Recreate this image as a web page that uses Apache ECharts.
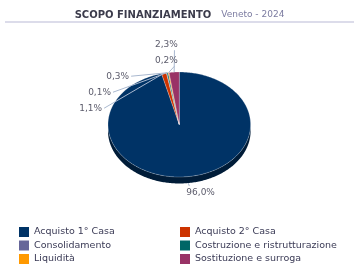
<!DOCTYPE html>
<html><head><meta charset="utf-8">
<script src="https://cdn.jsdelivr.net/npm/echarts@6/dist/echarts.min.js"></script>
<style>html,body{margin:0;padding:0;background:#fff}#c{width:359px;height:272px}</style>
</head><body><div id="c"></div>
<script>
// ---- data ----
const categories = ['Acquisto 1° Casa','Acquisto 2° Casa','Consolidamento','Costruzione e ristrutturazione','Liquidità','Sostituzione e surroga'];
const values = [96.0, 1.1, 0.1, 0.3, 0.2, 2.3];
const colors = ['#003366','#cc3300','#666699','#006666','#ff9900','#993366'];
const titleText = 'SCOPO FINANZIAMENTO';
const subtitleText = 'Veneto - 2024';
const legendCol1 = [0, 2, 4];
const legendCol2 = [1, 3, 5];

// ---- geometry of the tilted pie ----
const G = {cx:179.3, cy:124.5, rx:71.3, ry:52.5, depth:6.5};
const LD = {Rx2:80, Ry2:62, Rout:G.ry + 28, gap:16};
const total = values.reduce((a,b)=>a+b,0);
const starts = []; let acc = 0; values.forEach(v=>{starts.push(acc); acc += v;});
const fmt = v => v.toFixed(1).replace('.', ',') + '%';
function pt(th, dy){ const r = th*Math.PI/180; return [G.cx + G.rx*Math.sin(r), G.cy - G.ry*Math.cos(r) + (dy||0)]; }
function arc(a,b,dy){ const n = Math.max(2, Math.ceil(b-a)); const out=[]; for(let i=0;i<=n;i++) out.push(pt(a+(b-a)*i/n, dy)); return out; }
function shade(hex, f){ const n=parseInt(hex.slice(1),16); const r=Math.round(((n>>16)&255)*f), g=Math.round(((n>>8)&255)*f), b=Math.round((n&255)*f); return 'rgb('+r+','+g+','+b+')'; }

// ---- label layout ----
const mids = values.map((v,i)=> (starts[i] + v/2)/total*360);
const layout = [];
const leftIdx = mids.map((m,i)=>i).filter(i=>mids[i] > 180).sort((p,q)=>mids[q]-mids[p]);
let prevY = -Infinity;
leftIdx.forEach(i=>{
  const th = mids[i]*Math.PI/180;
  const anc = pt(mids[i], Math.cos(th) < 0 ? G.depth : 0);
  const y = Math.max(G.cy - LD.Rout*Math.cos(th), prevY + LD.gap);
  prevY = y;
  const dy = y - G.cy;
  if (Math.abs(dy) >= LD.Ry2) {
    const x = G.cx - 0.18*G.rx;
    layout[i] = {x:x, y:y, align:'center', line:[[x+8, y+6], anc]};
  } else {
    const xe = G.cx - LD.Rx2*Math.sqrt(1 - Math.pow(dy/LD.Ry2, 2));
    layout[i] = {x:xe, y:y, align:'right', line:[[xe+2, y], anc]};
  }
});
mids.forEach((m,i)=>{
  if (m > 180) return;
  const th = m*Math.PI/180;
  const anc = pt(m, Math.cos(th) < 0 ? G.depth : 0);
  const ox = G.cx + LD.Rx2*Math.sin(th), oy = G.cy - LD.Ry2*Math.cos(th);
  if (Math.cos(th) < 0) layout[i] = {x:ox-3, y:oy+7, align:'left', line:[anc,[ox,oy]]};
  else layout[i] = {x:ox+3, y:oy, align:'left', line:[anc,[ox,oy]]};
});

function renderItem(params, api){
  const i = params.dataIndex;
  const a = starts[i]/total*360, b = (starts[i]+values[i])/total*360;
  const children = [];
  const s = Math.max(a, 90), e = Math.min(b, 270);
  if (e > s) {
    const top = arc(s, e, 0), bot = arc(s, e, G.depth).reverse();
    children.push({type:'polygon', z2:1, shape:{points: top.concat(bot)}, style:{fill: shade(colors[i], 0.55)}});
  }
  children.push({type:'polygon', z2:5, shape:{points:[[G.cx,G.cy]].concat(arc(a,b,0))},
    style:{fill: colors[i], stroke:'rgba(255,255,255,0.45)', lineWidth:0.5}});
  const L = layout[i];
  children.push({type:'polyline', z2:8, shape:{points:L.line}, style:{stroke:'#a9b8cf', lineWidth:1, fill:'none'}});
  children.push({type:'text', z2:9, style:{text: fmt(values[i]), x:L.x, y:L.y, align:L.align, verticalAlign:'middle',
    fill:'#5b5b6b', font:'9px "DejaVu Sans"'}});
  return {type:'group', children: children};
}

const legendBase = {orient:'vertical', top:226, itemWidth:10, itemHeight:10, itemGap:1.5, icon:'rect', padding:0,
  selectedMode:false, textStyle:{fontFamily:'DejaVu Sans', fontSize:9.5, color:'#3a3a55', lineHeight:12}};

const chart = echarts.init(document.getElementById('c'), null, {renderer:'canvas'});
chart.setOption({
  animation:false,
  title:{ text:'{a|'+titleText+'}  {b|'+subtitleText+'}', left:'center', top:1,
    textStyle:{ fontWeight:'normal', rich:{ a:{fontFamily:'DejaVu Sans', fontWeight:'bold', fontSize:10, color:'#3b3b4b'},
                       b:{fontFamily:'DejaVu Sans', fontWeight:'normal', fontSize:9, color:'#7b7ba0'} } } },
  graphic:[{type:'rect', left:5, top:21, shape:{width:349, height:2}, style:{fill:'#dcdcea'}}],
  legend:[
    Object.assign({}, legendBase, {left:19, data: legendCol1.map(i=>categories[i])}),
    Object.assign({}, legendBase, {left:180, data: legendCol2.map(i=>categories[i])})
  ],
  series:[
    {type:'custom', name:'scopo', coordinateSystem:'none', renderItem: renderItem, silent:true,
     data: values.map((v,i)=>({name:categories[i], value:v}))},
    {type:'pie', radius:[0,0], silent:true, label:{show:false}, labelLine:{show:false},
     data: values.map((v,i)=>({name:categories[i], value:v, itemStyle:{color:colors[i]}}))}
  ]
});
</script></body></html>
